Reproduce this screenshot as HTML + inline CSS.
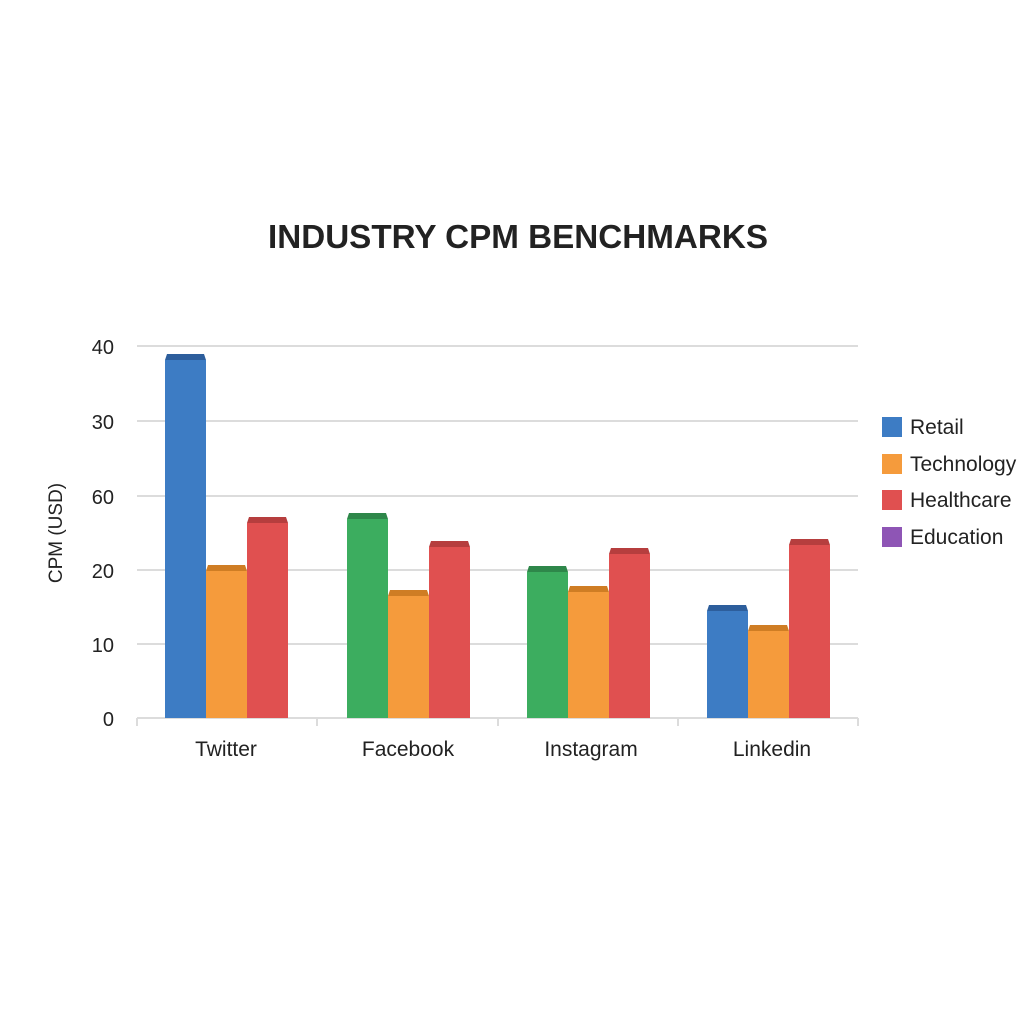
<!DOCTYPE html>
<html><head><meta charset="utf-8"><style>body{margin:0;background:#fff}svg{display:block}text{font-family:"Liberation Sans",sans-serif;fill:#222}</style></head><body>
<svg width="1024" height="1024" viewBox="0 0 1024 1024">
<rect width="1024" height="1024" fill="#fff"/>
<text x="518" y="248" font-size="33" font-weight="bold" text-anchor="middle" textLength="500" lengthAdjust="spacingAndGlyphs">INDUSTRY CPM BENCHMARKS</text>
<g stroke="#dcdcdc" stroke-width="2">
<line x1="137" y1="346" x2="858" y2="346"/><line x1="137" y1="421" x2="858" y2="421"/><line x1="137" y1="496" x2="858" y2="496"/><line x1="137" y1="570" x2="858" y2="570"/><line x1="137" y1="644" x2="858" y2="644"/>
<line x1="137" y1="718" x2="858" y2="718"/>
<line x1="137" y1="718" x2="137" y2="726"/><line x1="317" y1="718" x2="317" y2="726"/><line x1="498" y1="718" x2="498" y2="726"/><line x1="678" y1="718" x2="678" y2="726"/><line x1="858" y1="718" x2="858" y2="726"/>
</g>
<g font-size="20" text-anchor="end">
<text x="114" y="354">40</text><text x="114" y="429">30</text><text x="114" y="504">60</text><text x="114" y="578">20</text><text x="114" y="652">10</text><text x="114" y="726">0</text>
</g>
<text transform="translate(62,533) rotate(-90)" font-size="19" text-anchor="middle">CPM (USD)</text>
<g font-size="21" text-anchor="middle">
<text x="226" y="756">Twitter</text><text x="408" y="756">Facebook</text><text x="591" y="756">Instagram</text><text x="772" y="756">Linkedin</text>
</g>
<g>
<rect x="165" y="360" width="41" height="358" fill="#3d7cc4"/><path d="M167 354H204L206 360H165Z" fill="#2d5e9c"/>
<rect x="206" y="571" width="41" height="147" fill="#f59b3c"/><path d="M208 565H245L247 571H206Z" fill="#cf7d24"/>
<rect x="247" y="523" width="41" height="195" fill="#e05050"/><path d="M249 517H286L288 523H247Z" fill="#b63e3e"/>

<rect x="347" y="519" width="41" height="199" fill="#3cad5f"/><path d="M349 513H386L388 519H347Z" fill="#2e874a"/>
<rect x="388" y="596" width="41" height="122" fill="#f59b3c"/><path d="M390 590H427L429 596H388Z" fill="#cf7d24"/>
<rect x="429" y="547" width="41" height="171" fill="#e05050"/><path d="M431 541H468L470 547H429Z" fill="#b63e3e"/>

<rect x="527" y="572" width="41" height="146" fill="#3cad5f"/><path d="M529 566H566L568 572H527Z" fill="#2e874a"/>
<rect x="568" y="592" width="41" height="126" fill="#f59b3c"/><path d="M570 586H607L609 592H568Z" fill="#cf7d24"/>
<rect x="609" y="554" width="41" height="164" fill="#e05050"/><path d="M611 548H648L650 554H609Z" fill="#b63e3e"/>

<rect x="707" y="611" width="41" height="107" fill="#3d7cc4"/><path d="M709 605H746L748 611H707Z" fill="#2d5e9c"/>
<rect x="748" y="631" width="41" height="87" fill="#f59b3c"/><path d="M750 625H787L789 631H748Z" fill="#cf7d24"/>
<rect x="789" y="545" width="41" height="173" fill="#e05050"/><path d="M791 539H828L830 545H789Z" fill="#b63e3e"/>
</g>
<g font-size="21">
<rect x="882" y="417" width="20" height="20" fill="#3d7cc4"/><text x="910" y="434">Retail</text>
<rect x="882" y="454" width="20" height="20" fill="#f59b3c"/><text x="910" y="471">Technology</text>
<rect x="882" y="490" width="20" height="20" fill="#e05050"/><text x="910" y="507">Healthcare</text>
<rect x="882" y="527" width="20" height="20" fill="#8e55b5"/><text x="910" y="544">Education</text>
</g>
</svg>
</body></html>
